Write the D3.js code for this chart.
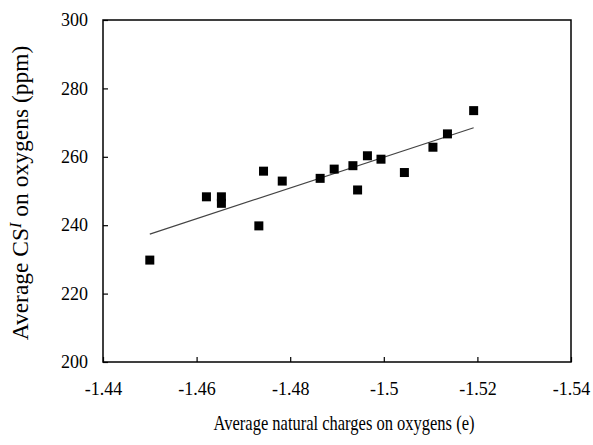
<!DOCTYPE html>
<html>
<head>
<meta charset="utf-8">
<script src="https://cdn.jsdelivr.net/npm/d3@7"></script>
<style>
  body { margin: 0; background: #fff; }
  text { font-family: "Liberation Serif", "Times New Roman", serif; fill: #000; }
</style>
</head>
<body>
<div id="chart"></div>
<script>
// data
const charges = [-1.450, -1.4621, -1.4653, -1.4653, -1.4733, -1.4743, -1.4783, -1.4864,
                 -1.4894, -1.4934, -1.4944, -1.4965, -1.4994, -1.5044, -1.5105, -1.5136, -1.5192];
const shifts  = [229.8, 248.3, 248.3, 246.4, 239.8, 255.8, 252.9, 253.7,
                 256.4, 257.4, 250.3, 260.3, 259.3, 255.4, 262.8, 266.7, 273.5];
// linear trend line end points
const trendX = [-1.450, -1.5192];
const trendY = [237.4, 268.5];
const xTicks = [-1.44, -1.46, -1.48, -1.50, -1.52, -1.54];
const yTicks = [200, 220, 240, 260, 280, 300];

const width = 593;
const height = 445;
const margin = {top: 20, right: 22, bottom: 83, left: 103};
const serif = '"Liberation Serif", "Times New Roman", serif';

const svg = d3.select("#chart").append("svg")
    .attr("width", width)
    .attr("height", height);

const x = d3.scaleLinear()
    .domain([-1.44, -1.54])
    .range([margin.left, width - margin.right]);
const y = d3.scaleLinear()
    .domain([200, 300])
    .range([height - margin.bottom, margin.top]);

const fmt = d => String(+d.toFixed(2));

// x axis, ticks pointing inward
const xAxis = svg.append("g")
    .attr("transform", "translate(0," + (height - margin.bottom) + ")")
    .call(d3.axisBottom(x).tickValues(xTicks).tickFormat(fmt)
        .tickSizeInner(-5).tickSizeOuter(0).tickPadding(20));
xAxis.attr("font-family", serif);
xAxis.select(".domain").remove();
xAxis.selectAll("text").style("font-size", "18px").style("font-family", serif);
xAxis.selectAll("line").attr("stroke-width", 1.2);

const yAxis = svg.append("g")
    .attr("transform", "translate(" + margin.left + ",0)")
    .call(d3.axisLeft(y).tickValues(yTicks)
        .tickSizeInner(-5).tickSizeOuter(0).tickPadding(15));
yAxis.attr("font-family", serif);
yAxis.select(".domain").remove();
yAxis.selectAll("text").style("font-size", "18px").style("font-family", serif);
yAxis.selectAll("line").attr("stroke-width", 1.2);

// plot frame
svg.append("rect")
    .attr("x", margin.left)
    .attr("y", margin.top)
    .attr("width", width - margin.left - margin.right)
    .attr("height", height - margin.top - margin.bottom)
    .style("fill", "none")
    .style("stroke", "#000")
    .style("stroke-width", 1.5);

// trend line
svg.append("line")
    .attr("x1", x(trendX[0]))
    .attr("y1", y(trendY[0]))
    .attr("x2", x(trendX[1]))
    .attr("y2", y(trendY[1]))
    .style("stroke", "#444")
    .style("stroke-width", 1.2);

// square markers
const size = 9;
svg.selectAll("rect.pt")
    .data(charges)
    .enter()
    .append("rect")
    .attr("class", "pt")
    .attr("x", d => x(d) - size / 2)
    .attr("y", (d, i) => y(shifts[i]) - size / 2)
    .attr("width", size)
    .attr("height", size)
    .style("fill", "#000");

// axis titles
svg.append("text")
    .attr("transform", "translate(344,430) scale(0.75,1)")
    .attr("text-anchor", "middle")
    .style("font-size", "22px")
    .text("Average natural charges on oxygens (e)");

const yTitle = svg.append("text")
    .attr("transform", "translate(28,193) rotate(-90)")
    .attr("text-anchor", "middle")
    .style("font-size", "23.5px");
yTitle.append("tspan").text("Average CS");
yTitle.append("tspan")
    .attr("dy", "-0.45em")
    .style("font-size", "16px")
    .style("font-style", "italic")
    .text("I");
yTitle.append("tspan")
    .attr("dy", "0.3em")
    .text(" on oxygens (ppm)");
</script>
</body>
</html>
